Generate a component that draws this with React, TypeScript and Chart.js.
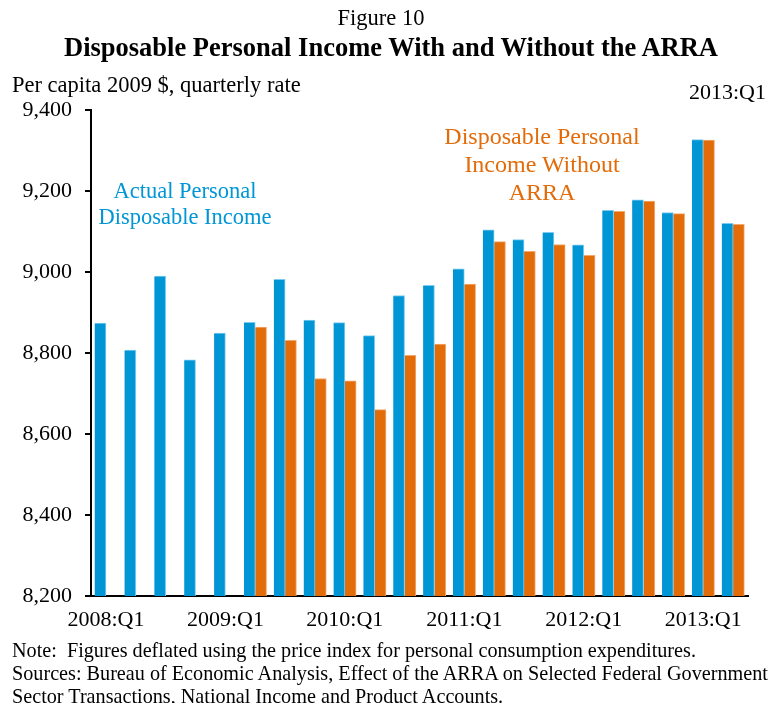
import React, { useEffect, useRef } from 'react';
import { Chart, registerables } from 'chart.js';

Chart.register(...registerables);

const categories = [
  '2008:Q1', '2008:Q2', '2008:Q3', '2008:Q4',
  '2009:Q1', '2009:Q2', '2009:Q3', '2009:Q4',
  '2010:Q1', '2010:Q2', '2010:Q3', '2010:Q4',
  '2011:Q1', '2011:Q2', '2011:Q3', '2011:Q4',
  '2012:Q1', '2012:Q2', '2012:Q3', '2012:Q4',
  '2013:Q1', '2013:Q2',
];
const shownTickLabels = ['2008:Q1', '2009:Q1', '2010:Q1', '2011:Q1', '2012:Q1', '2013:Q1'];
const actualIncome = [
  8874, 8807, 8990, 8783, 8849, 8876, 8982, 8881, 8875, 8843, 8942,
  8967, 9008, 9104, 9080, 9098, 9067, 9152, 9178, 9147, 9327, 9120,
];
const incomeWithoutArra = [
  null, null, null, null, null, 8864, 8831, 8737, 8731, 8660, 8794,
  8822, 8970, 9075, 9051, 9068, 9041, 9150, 9175, 9144, 9326, 9118,
];
const yMin = 8200;
const yMax = 9400;
const yStep = 200;

const SERIF = '"Liberation Serif", "Times New Roman", serif';
const BLUE = '#0096D6';
const ORANGE = '#E36C0A';

export default function App() {
  const canvasRef = useRef<HTMLCanvasElement | null>(null);

  useEffect(() => {
    document.body.style.margin = '0';
    const canvas = canvasRef.current;
    if (!canvas) return;
    const chart = new Chart(canvas, {
      type: 'bar',
      data: {
        labels: categories,
        datasets: [
          {
            label: 'Actual Personal Disposable Income',
            data: actualIncome,
            backgroundColor: BLUE,
            borderColor: '#7CCBEE',
            borderWidth: { top: 1, right: 1, left: 0, bottom: 0 },
            borderSkipped: 'bottom',
            barThickness: 11.3,
          },
          {
            label: 'Disposable Personal Income Without ARRA',
            data: incomeWithoutArra,
            backgroundColor: ORANGE,
            borderColor: '#F2A86E',
            borderWidth: { top: 1, right: 1, left: 0, bottom: 0 },
            borderSkipped: 'bottom',
            barThickness: 11.3,
          },
        ],
      },
      options: {
        responsive: false,
        animation: false,
        devicePixelRatio: 1,
        layout: { padding: { top: 110, right: 21, left: 0, bottom: 0 } },
        plugins: {
          legend: { display: false },
          title: { display: false },
          tooltip: { enabled: false },
        },
        scales: {
          x: {
            type: 'category',
            offset: true,
            grid: { display: false, drawTicks: false },
            border: { display: true, color: '#000', width: 2 },
            ticks: {
              autoSkip: false,
              maxRotation: 0,
              minRotation: 0,
              padding: 11,
              color: '#000',
              font: { family: SERIF, size: 22 },
              callback: (_v: any, index: number) =>
                shownTickLabels.includes(categories[index]) ? categories[index] : '',
            },
            afterFit: (scale: any) => {
              scale.height = 107;
            },
          },
          y: {
            min: yMin,
            max: yMax,
            grid: {
              drawOnChartArea: false,
              drawTicks: true,
              tickLength: 6,
              color: '#000',
              lineWidth: 2,
            },
            border: { display: true, color: '#000', width: 2 },
            ticks: {
              stepSize: yStep,
              padding: 13,
              color: '#000',
              font: { family: SERIF, size: 22 },
              callback: (v: any) => Number(v).toLocaleString('en-US'),
            },
            afterFit: (scale: any) => {
              scale.width = 91;
            },
          },
        },
      },
    });
    return () => chart.destroy();
  }, []);

  const abs = (extra: React.CSSProperties): React.CSSProperties => ({
    position: 'absolute',
    whiteSpace: 'nowrap',
    fontFamily: SERIF,
    color: '#000',
    ...extra,
  });

  return (
    <div style={{ position: 'relative', width: 769, height: 703, background: '#fff', overflow: 'hidden' }}>
      <canvas ref={canvasRef} width={769} height={703} style={{ position: 'absolute', left: 0, top: 0 }} />
      <div style={abs({ left: 381, top: 5, fontSize: 22.5, lineHeight: '26px', transform: 'translateX(-50%)' })}>
        Figure 10
      </div>
      <div style={abs({ left: 391, top: 33, fontSize: 26.5, lineHeight: '28px', fontWeight: 'bold', transform: 'translateX(-50%)' })}>
        Disposable Personal Income With and Without the ARRA
      </div>
      <div style={abs({ left: 12, top: 73, fontSize: 22.5, lineHeight: '24px' })}>
        Per capita 2009 $, quarterly rate
      </div>
      <div style={abs({ right: 3, top: 80, fontSize: 22, lineHeight: '24px' })}>2013:Q1</div>
      <div style={abs({ left: 185, top: 178, fontSize: 22.5, lineHeight: '26px', color: BLUE, textAlign: 'center', transform: 'translateX(-50%)' })}>
        Actual Personal
        <br />
        Disposable Income
      </div>
      <div style={abs({ left: 542, top: 122, fontSize: 24, lineHeight: '28px', color: ORANGE, textAlign: 'center', transform: 'translateX(-50%)' })}>
        Disposable Personal
        <br />
        Income Without
        <br />
        ARRA
      </div>
      <div style={abs({ left: 12, top: 639, fontSize: 20.2, lineHeight: '23px' })}>
        Note:&nbsp; Figures deflated using the price index for personal consumption expenditures.
        <br />
        Sources: Bureau of Economic Analysis, Effect of the ARRA on Selected Federal Government
        <br />
        Sector Transactions, National Income and Product Accounts.
      </div>
    </div>
  );
}
